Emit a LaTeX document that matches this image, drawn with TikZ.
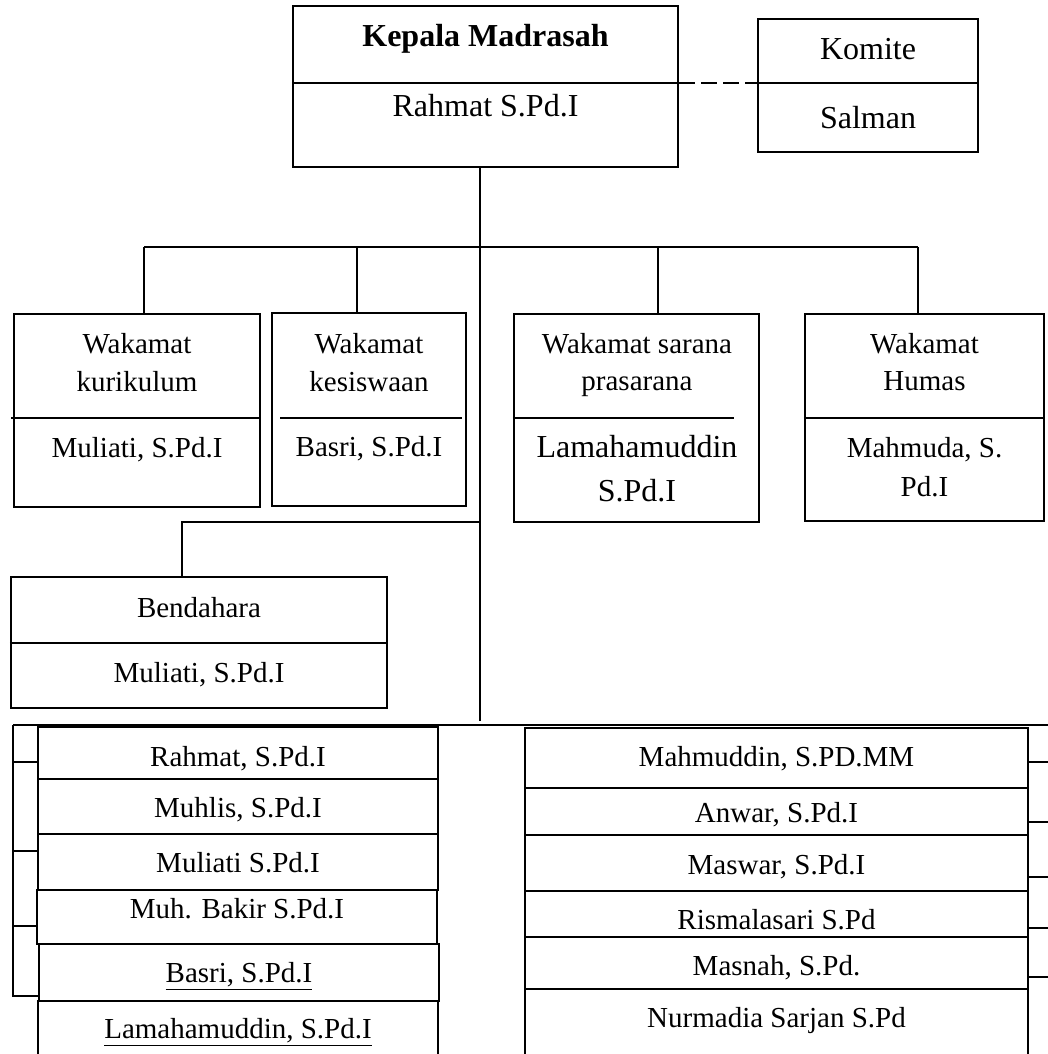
\documentclass[tikz,border=0pt]{standalone}
\usepackage{fontspec}
\setmainfont{Liberation Serif}
\begin{document}
\begin{tikzpicture}[x=0.5pt,y=-0.5pt,line width=1.1pt,
  box/.style={draw,rectangle,inner sep=0pt},
  txt/.style={inner sep=0pt,anchor=base,font=\fontsize{14.5}{17}\selectfont},
  big/.style={inner sep=0pt,anchor=base,font=\fontsize{16}{19}\selectfont},
  conn/.style={draw,line width=1.1pt},
  dashconn/.style={draw,line width=1.1pt,dash pattern=on 8pt off 3pt}]
\useasboundingbox (0,0) rectangle (1048,1054);
\clip (0,0) rectangle (1048,1054);
\fill[white] (0,0) rectangle (1048,1054);

% boxes
\node[box,minimum width=192.5pt,minimum height=80.5pt] (kep) at (485.5,86.5) {};
\node[box,minimum width=110pt,minimum height=66.5pt] (kom) at (868,85.5) {};
\node[box,minimum width=123pt,minimum height=96.5pt] (kur) at (137,410.5) {};
\node[box,minimum width=97pt,minimum height=96.5pt] (kes) at (369,409.5) {};
\node[box,minimum width=122.5pt,minimum height=104pt] (sar) at (636.5,418) {};
\node[box,minimum width=119.5pt,minimum height=103.5pt] (hum) at (924.5,417.5) {};
\node[box,minimum width=188pt,minimum height=65.5pt] (ben) at (199,642.5) {};

\node[box,minimum width=200pt,minimum height=26pt] (l1) at (238,753) {};
\node[box,minimum width=200pt,minimum height=27.5pt] (l2) at (238,806.5) {};
\node[box,minimum width=200pt,minimum height=28pt] (l3) at (238,862) {};
\node[box,minimum width=200pt,minimum height=27pt] (l4) at (237,917) {};
\node[box,minimum width=200pt,minimum height=28.5pt] (l5) at (239,972.5) {};
\node[box,minimum width=200pt,minimum height=34.5pt] (l6) at (238,1035.5) {};

\node[box,minimum width=251.5pt,minimum height=30pt] (r1) at (776.5,758) {};
\node[box,minimum width=251.5pt,minimum height=23.5pt] (r2) at (776.5,811.5) {};
\node[box,minimum width=251.5pt,minimum height=28pt] (r3) at (776.5,863) {};
\node[box,minimum width=251.5pt,minimum height=23pt] (r4) at (776.5,914) {};
\node[box,minimum width=251.5pt,minimum height=26pt] (r5) at (776.5,963) {};
\node[box,minimum width=251.5pt,minimum height=40.5pt] (r6) at (776.5,1029.5) {};

% helper coordinates
\coordinate (dtop) at (0,83);
\coordinate (dmid) at (0,418);
\coordinate (dben) at (0,643);
\coordinate (kurL) at (11,418);
\coordinate (kesL) at (280,418);
\coordinate (kesR) at (462,418);
\coordinate (sarR) at (734,418);
\coordinate (bL) at (144,247);
\coordinate (b2) at (357,247);
\coordinate (b3) at (658,247);
\coordinate (bR) at (918,247);
\coordinate (trunkEnd) at (480,721);
\coordinate (bj) at (480,522);
\coordinate (bk) at (182,522);
\coordinate (hl) at (13,725);
\coordinate (hr) at (1048,725);
\coordinate (lb) at (13,996);
\coordinate (lt1) at (13,762);
\coordinate (lt2) at (13,851);
\coordinate (lt3) at (13,926);
\coordinate (rt1) at (1048,762);
\coordinate (rt2) at (1048,822);
\coordinate (rt3) at (1048,877);
\coordinate (rt4) at (1048,928);
\coordinate (rt5) at (1048,977);

% dividers
\draw (kep.west |- dtop) -- (kep.east |- dtop);
\draw (kom.west |- dtop) -- (kom.east |- dtop);
\draw (kurL) -- (kur.east |- dmid);
\draw (kesL) -- (kesR);
\draw (sar.west |- dmid) -- (sarR);
\draw (hum.west |- dmid) -- (hum.east |- dmid);
\draw (ben.west |- dben) -- (ben.east |- dben);

% connectors
\path[dashconn] (kep.east |- dtop) -- (kom.west |- dtop);
\path[conn] (kep.south -| trunkEnd) -- (trunkEnd);
\path[conn] (bL) -- (bR);
\path[conn] (bL) -- (kur.north -| bL);
\path[conn] (b2) -- (kes.north -| b2);
\path[conn] (b3) -- (sar.north -| b3);
\path[conn] (bR) -- (hum.north -| bR);
\path[conn] (bj) -- (bk) -- (ben.north -| bk);
\path[conn] (hl) -- (hr);
\path[conn] (hl) -- (lb) -- (l5.west |- lb);
\path[conn] (lt1) -- (l1.west |- lt1);
\path[conn] (lt2) -- (l2.west |- lt2);
\path[conn] (lt3) -- (l4.west |- lt3);
\path[conn] (r1.east |- rt1) -- (rt1);
\path[conn] (r2.east |- rt2) -- (rt2);
\path[conn] (r3.east |- rt3) -- (rt3);
\path[conn] (r4.east |- rt4) -- (rt4);
\path[conn] (r5.east |- rt5) -- (rt5);

% texts
\node[big] (tkep1) at (485.5,47) {\bfseries Kepala Madrasah};
\node[big] (tkep2) at (485.5,117) {Rahmat S.Pd.I};
\node[big] (tkom1) at (868,60) {Komite};
\node[big] (tkom2) at (868,128) {Salman};

\node[txt] (tkur1) at (137,353) {Wakamat};
\node[txt] (tkur2) at (137,391) {kurikulum};
\node[txt] (tkur3) at (137,457) {Muliati, S.Pd.I};
\node[txt] (tkes1) at (369,353) {Wakamat};
\node[txt] (tkes2) at (369,391) {kesiswaan};
\node[txt] (tkes3) at (369,456) {Basri, S.Pd.I};
\node[txt] (tsar1) at (637,353) {Wakamat sarana};
\node[txt] (tsar2) at (637,390) {prasarana};
\node[big] (tsar3) at (637,457) {Lamahamuddin};
\node[big] (tsar4) at (637,501) {S.Pd.I};
\node[txt] (thum1) at (924.5,353) {Wakamat};
\node[txt] (thum2) at (924.5,390) {Humas};
\node[txt] (thum3) at (924.5,457) {Mahmuda, S.};
\node[txt] (thum4) at (924.5,496) {Pd.I};
\node[txt] (tben1) at (199,617) {Bendahara};
\node[txt] (tben2) at (199,682) {Muliati, S.Pd.I};

\node[txt] (tl1) at (238,766) {Rahmat, S.Pd.I};
\node[txt] (tl2) at (238,817) {Muhlis, S.Pd.I};
\node[txt] (tl3) at (238,872) {Muliati S.Pd.I};
\node[txt] (tl4) at (237,918) {Muh. Bakir S.Pd.I};
\node[txt] (tl5) at (239,982) {\underline{Basri, S.Pd.I}};
\node[txt] (tl6) at (238,1038) {\underline{Lamahamuddin, S.Pd.I}};

\node[txt] (tr1) at (776.5,766) {Mahmuddin, S.PD.MM};
\node[txt] (tr2) at (776.5,822) {Anwar, S.Pd.I};
\node[txt] (tr3) at (776.5,874) {Maswar, S.Pd.I};
\node[txt] (tr4) at (776.5,929) {Rismalasari S.Pd};
\node[txt] (tr5) at (776.5,975) {Masnah, S.Pd.};
\node[txt] (tr6) at (776.5,1027) {Nurmadia Sarjan S.Pd};
\end{tikzpicture}
\end{document}
